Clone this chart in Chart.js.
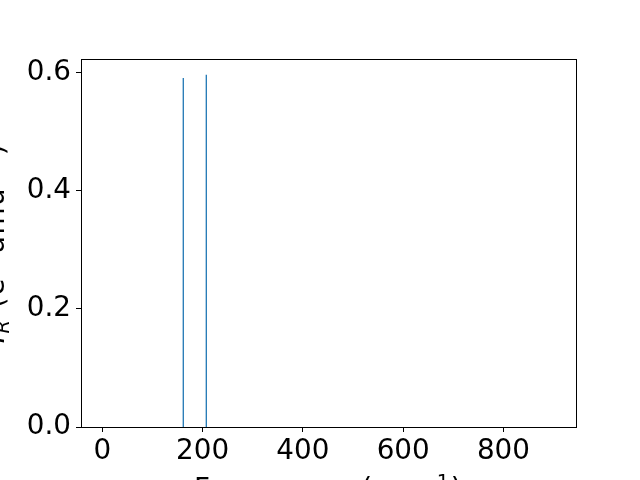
<!DOCTYPE html>
<html>
<head>
<meta charset="utf-8">
<script src="https://cdn.jsdelivr.net/npm/chart.js@4/dist/chart.umd.min.js"></script>
<style>
  html, body { margin: 0; padding: 0; background: #fff; overflow: hidden; }
  #wrap { width: 640px; height: 480px; position: relative; }
</style>
</head>
<body>
<div id="wrap"><canvas id="c" width="640" height="480"></canvas></div>
<script>
// Data
const frequencies = [161.5, 207.4];      // cm^-1
const intensities = [0.5915, 0.597];     // e^2 amu^-1
const xTicks = [0, 200, 400, 600, 800];
const yTicks = [0.0, 0.2, 0.4, 0.6];
const xRange = [-42.5, 944.7];
const yRange = [0, 0.6237];

const FONT = '"DejaVu Sans", sans-serif';
const FS = 27.8;
const LINE_COLOR = '#1f77b4';

const datasets = frequencies.map((f, i) => ({
  data: [{x: f, y: 0}, {x: f, y: intensities[i]}],
  showLine: true,
  borderColor: LINE_COLOR,
  borderWidth: 1.3,
  pointRadius: 0,
  pointHoverRadius: 0,
  fill: false
}));

function drawRuns(ctx, runs, x, y, align, spacing) {
  ctx.letterSpacing = spacing + 'px';
  const widths = runs.map(r => {
    ctx.font = (r.italic ? 'italic ' : '') + (FS * (r.s || 1)) + 'px ' + FONT;
    return ctx.measureText(r.t).width;
  });
  const total = widths.reduce((a, b) => a + b, 0);
  let cx = align === 'center' ? x - total / 2 : x;
  runs.forEach((r, i) => {
    ctx.font = (r.italic ? 'italic ' : '') + (FS * (r.s || 1)) + 'px ' + FONT;
    ctx.fillText(r.t, cx, y - (r.dy || 0) * FS);
    cx += widths[i];
  });
  ctx.letterSpacing = '0px';
}

const framePlugin = {
  id: 'frame',
  afterDraw(chart) {
    const {ctx, chartArea: a} = chart;
    ctx.save();
    ctx.strokeStyle = '#000';
    ctx.lineWidth = 1;
    ctx.strokeRect(Math.round(a.left) + 0.5, Math.round(a.top) + 0.5,
                   Math.round(a.right - a.left), Math.round(a.bottom - a.top));
    ctx.fillStyle = '#000';
    ctx.textBaseline = 'alphabetic';
    ctx.textAlign = 'left';
    // x label
    drawRuns(ctx, [
      {t: 'Frequency (cm'},
      {t: '\u22121', s: 0.7, dy: 0.36},
      {t: ')'}
    ], (a.left + a.right) / 2, 498, 'center', 1.5);
    // y label (rotated)
    ctx.translate(3.5, (a.top + a.bottom) / 2);
    ctx.rotate(-Math.PI / 2);
    drawRuns(ctx, [
      {t: 'I', italic: true},
      {t: 'R', s: 0.7, dy: -0.2, italic: true},
      {t: ' (e'},
      {t: '2', s: 0.7, dy: 0.36},
      {t: ' amu'},
      {t: '\u22121', s: 0.7, dy: 0.36},
      {t: ')'}
    ], 0, 0, 'center', 1.5);
    ctx.restore();
  }
};

new Chart(document.getElementById('c'), {
  type: 'scatter',
  data: { datasets },
  options: {
    responsive: false,
    animation: false,
    devicePixelRatio: 1,
    layout: { padding: { left: 0, top: 59, right: 64, bottom: 0 } },
    plugins: { legend: { display: false }, tooltip: { enabled: false } },
    scales: {
      x: {
        type: 'linear',
        min: xRange[0], max: xRange[1],
        afterBuildTicks: s => { s.ticks = xTicks.map(v => ({value: v})); },
        afterFit: s => { s.height = 53; },
        grid: { drawOnChartArea: false, drawTicks: true, tickLength: 5, color: '#000', tickColor: '#000' },
        border: { display: true, color: '#000', width: 1 },
        ticks: { color: '#000', font: { family: FONT, size: FS }, padding: 3, maxRotation: 0,
                 callback: v => String(v) }
      },
      y: {
        type: 'linear',
        min: yRange[0], max: yRange[1],
        afterBuildTicks: s => { s.ticks = yTicks.map(v => ({value: v})); },
        afterFit: s => { s.width = 81; },
        grid: { drawOnChartArea: false, drawTicks: true, tickLength: 5, color: '#000', tickColor: '#000' },
        border: { display: true, color: '#000', width: 1 },
        ticks: { color: '#000', font: { family: FONT, size: FS }, padding: 5,
                 callback: v => Number(v).toFixed(1) }
      }
    }
  },
  plugins: [framePlugin]
});
</script>
</body>
</html>
